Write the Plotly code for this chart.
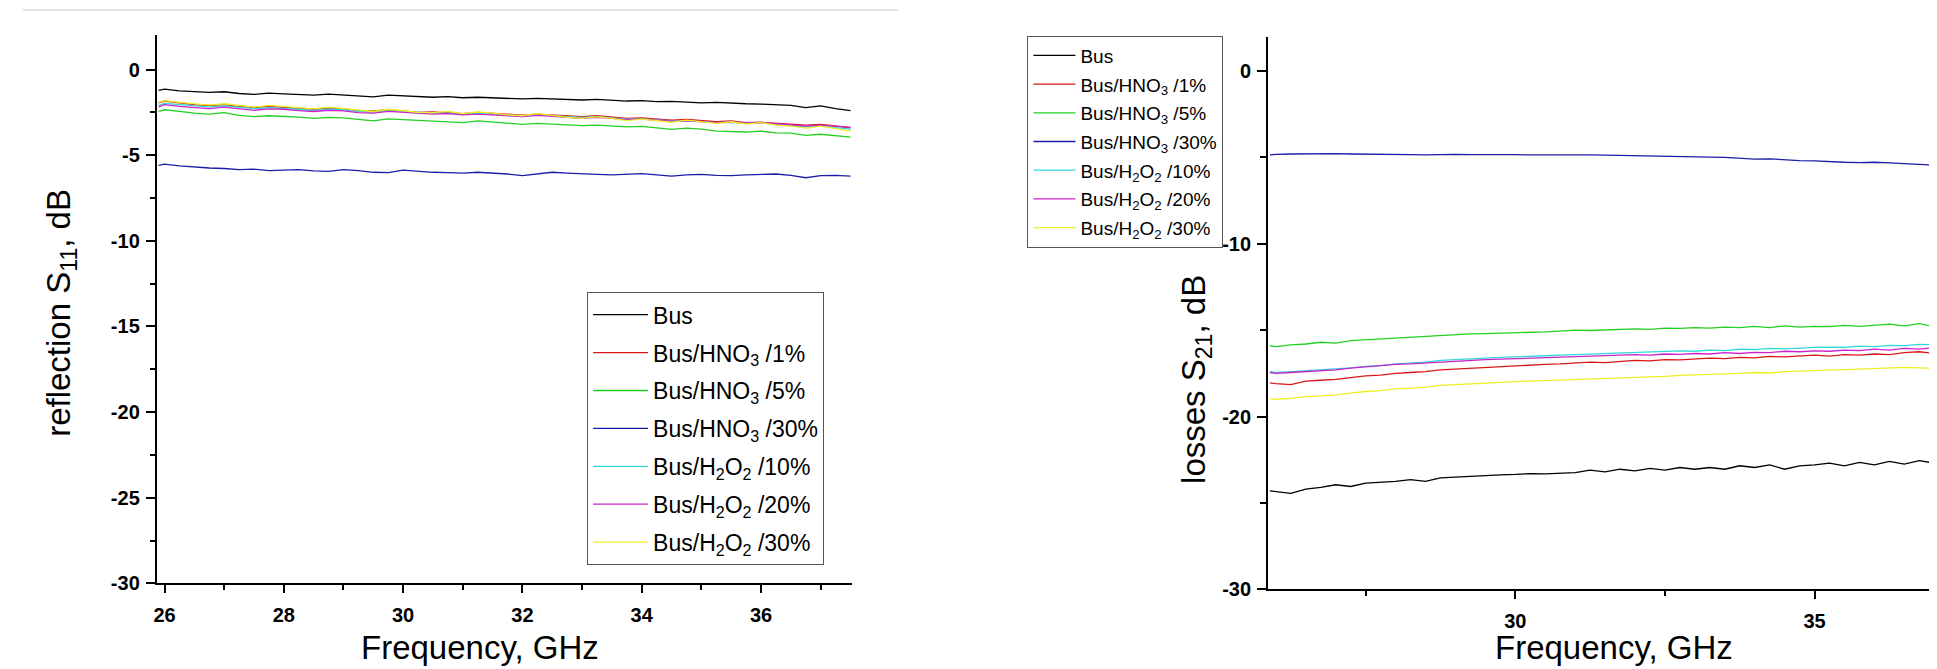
import plotly.graph_objects as go

W, H = 1937, 669

freq = [25.9, 26.0, 26.25, 26.5, 26.75, 27.0, 27.25, 27.5, 27.75, 28.0,
        28.25, 28.5, 28.75, 29.0, 29.25, 29.5, 29.75, 30.0, 30.25, 30.5,
        30.75, 31.0, 31.25, 31.5, 31.75, 32.0, 32.25, 32.5, 32.75, 33.0,
        33.25, 33.5, 33.75, 34.0, 34.25, 34.5, 34.75, 35.0, 35.25, 35.5,
        35.75, 36.0, 36.25, 36.5, 36.75, 37.0, 37.25, 37.5]

names = ["Bus", "Bus/HNO<sub>3</sub> /1%", "Bus/HNO<sub>3</sub> /5%", "Bus/HNO<sub>3</sub> /30%",
         "Bus/H<sub>2</sub>O<sub>2</sub> /10%", "Bus/H<sub>2</sub>O<sub>2</sub> /20%",
         "Bus/H<sub>2</sub>O<sub>2</sub> /30%"]
colors = ["#000000", "#d81818", "#22d022", "#1c1ca8", "#30d8d8", "#cc22cc", "#eeee22"]

# tick labels (hyphen-minus, as in the reference)
s11_yticks = [0, -5, -10, -15, -20, -25, -30]
s11_yticklabels = ["0", "-5", "-10", "-15", "-20", "-25", "-30"]
s21_yticks = [0, -10, -20, -30]
s21_yticklabels = ["0", "-10", "-20", "-30"]

# reflection S11, dB
s11_bus = [-1.22, -1.15, -1.25, -1.28, -1.33, -1.30, -1.40, -1.45, -1.38, -1.42,
           -1.45, -1.50, -1.44, -1.48, -1.55, -1.60, -1.50, -1.55, -1.60, -1.62,
           -1.58, -1.65, -1.62, -1.66, -1.70, -1.72, -1.68, -1.70, -1.76, -1.78,
           -1.74, -1.80, -1.84, -1.82, -1.88, -1.86, -1.90, -1.95, -1.92, -1.97,
           -2.00, -2.02, -2.05, -2.10, -2.22, -2.12, -2.28, -2.40]
s11_hno3_1 = [-1.95, -1.85, -1.95, -2.05, -2.10, -2.05, -2.15, -2.22, -2.15, -2.20,
              -2.28, -2.32, -2.25, -2.30, -2.40, -2.42, -2.35, -2.42, -2.50, -2.48,
              -2.52, -2.58, -2.50, -2.56, -2.62, -2.66, -2.60, -2.65, -2.72, -2.75,
              -2.70, -2.78, -2.85, -2.82, -2.90, -2.95, -2.92, -3.00, -3.05, -3.00,
              -3.10, -3.08, -3.15, -3.20, -3.25, -3.20, -3.30, -3.40]
s11_hno3_5 = [-2.45, -2.35, -2.45, -2.55, -2.60, -2.52, -2.68, -2.75, -2.70, -2.72,
              -2.78, -2.85, -2.80, -2.82, -2.92, -3.00, -2.88, -2.92, -2.98, -3.02,
              -3.05, -3.10, -3.00, -3.08, -3.12, -3.20, -3.15, -3.18, -3.22, -3.28,
              -3.25, -3.30, -3.35, -3.32, -3.40, -3.50, -3.42, -3.48, -3.60, -3.62,
              -3.65, -3.60, -3.70, -3.72, -3.85, -3.78, -3.88, -3.95]
s11_hno3_30 = [-5.60, -5.52, -5.62, -5.70, -5.75, -5.78, -5.85, -5.82, -5.90, -5.88,
               -5.85, -5.92, -5.95, -5.85, -5.90, -6.00, -6.02, -5.88, -5.95, -6.00,
               -6.02, -6.05, -6.00, -6.05, -6.10, -6.20, -6.12, -6.00, -6.05, -6.10,
               -6.12, -6.15, -6.10, -6.08, -6.15, -6.22, -6.15, -6.12, -6.18, -6.20,
               -6.15, -6.12, -6.10, -6.18, -6.32, -6.20, -6.18, -6.22]
s11_h2o2_10 = [-2.10, -1.98, -2.05, -2.12, -2.18, -2.12, -2.20, -2.28, -2.22, -2.25,
               -2.32, -2.38, -2.30, -2.35, -2.45, -2.48, -2.40, -2.45, -2.52, -2.55,
               -2.55, -2.62, -2.55, -2.60, -2.66, -2.70, -2.65, -2.70, -2.76, -2.80,
               -2.75, -2.82, -2.90, -2.88, -2.95, -3.00, -2.98, -3.05, -3.10, -3.08,
               -3.15, -3.12, -3.20, -3.28, -3.35, -3.30, -3.40, -3.48]
s11_h2o2_20 = [-2.18, -2.05, -2.15, -2.22, -2.28, -2.20, -2.30, -2.38, -2.30, -2.32,
               -2.40, -2.45, -2.38, -2.42, -2.52, -2.55, -2.45, -2.50, -2.58, -2.60,
               -2.58, -2.65, -2.60, -2.65, -2.70, -2.75, -2.68, -2.72, -2.80, -2.85,
               -2.80, -2.85, -2.92, -2.90, -2.98, -3.02, -3.00, -3.05, -3.10, -3.05,
               -3.12, -3.10, -3.18, -3.22, -3.30, -3.25, -3.32, -3.38]
s11_h2o2_30 = [-1.92, -1.82, -1.92, -2.00, -2.08, -2.00, -2.12, -2.20, -2.10, -2.18,
               -2.25, -2.30, -2.20, -2.28, -2.38, -2.45, -2.32, -2.40, -2.50, -2.52,
               -2.45, -2.58, -2.48, -2.55, -2.65, -2.70, -2.58, -2.68, -2.80, -2.85,
               -2.75, -2.85, -2.98, -2.90, -3.00, -3.08, -2.95, -3.05, -3.15, -3.05,
               -3.18, -3.10, -3.25, -3.30, -3.42, -3.30, -3.45, -3.60]

# losses S21, dB
s21_bus = [-24.30, -24.35, -24.45, -24.20, -24.10, -23.95, -24.05, -23.85, -23.80, -23.75,
           -23.65, -23.75, -23.55, -23.50, -23.45, -23.40, -23.38, -23.35, -23.30, -23.32,
           -23.30, -23.25, -23.10, -23.20, -23.05, -23.15, -23.00, -23.10, -22.95, -23.05,
           -22.95, -23.05, -22.85, -22.95, -22.80, -23.05, -22.85, -22.80, -22.70, -22.85,
           -22.65, -22.80, -22.60, -22.75, -22.55, -22.70, -22.80, -22.90]
s21_hno3_1 = [-18.05, -18.10, -18.15, -17.95, -17.90, -17.85, -17.75, -17.65, -17.60, -17.50,
              -17.45, -17.40, -17.30, -17.25, -17.20, -17.15, -17.10, -17.05, -17.00, -16.98,
              -16.95, -16.90, -16.85, -16.88, -16.80, -16.75, -16.78, -16.70, -16.72, -16.65,
              -16.62, -16.65, -16.58, -16.60, -16.52, -16.55, -16.48, -16.45, -16.50, -16.42,
              -16.45, -16.38, -16.42, -16.30, -16.25, -16.35, -16.30, -16.35]
s21_hno3_5 = [-15.90, -15.95, -15.85, -15.80, -15.70, -15.75, -15.60, -15.55, -15.50, -15.45,
              -15.40, -15.35, -15.30, -15.25, -15.22, -15.20, -15.18, -15.15, -15.12, -15.10,
              -15.05, -15.00, -15.02, -14.98, -14.95, -14.92, -14.95, -14.88, -14.90, -14.85,
              -14.88, -14.82, -14.85, -14.78, -14.85, -14.75, -14.82, -14.78, -14.80, -14.72,
              -14.78, -14.70, -14.65, -14.75, -14.62, -14.80, -14.85, -14.90]
s21_hno3_30 = [-4.85, -4.82, -4.80, -4.78, -4.80, -4.78, -4.80, -4.82, -4.80, -4.82,
               -4.84, -4.85, -4.83, -4.82, -4.84, -4.83, -4.85, -4.84, -4.85, -4.84,
               -4.85, -4.86, -4.85, -4.87, -4.88, -4.90, -4.92, -4.94, -4.95, -4.96,
               -4.98, -5.00, -5.05, -5.10, -5.08, -5.15, -5.18, -5.20, -5.25, -5.28,
               -5.30, -5.28, -5.32, -5.35, -5.38, -5.45, -5.42, -5.45]
s21_h2o2_10 = [-17.40, -17.45, -17.40, -17.35, -17.30, -17.25, -17.18, -17.10, -17.05, -16.95,
               -16.90, -16.85, -16.75, -16.70, -16.65, -16.62, -16.58, -16.55, -16.50, -16.48,
               -16.45, -16.42, -16.40, -16.35, -16.32, -16.30, -16.28, -16.25, -16.20, -16.22,
               -16.15, -16.18, -16.10, -16.12, -16.05, -16.08, -16.02, -16.00, -15.98, -16.00,
               -15.92, -15.95, -15.88, -15.90, -15.82, -15.85, -15.80, -15.85]
s21_h2o2_20 = [-17.45, -17.50, -17.45, -17.40, -17.35, -17.30, -17.20, -17.12, -17.05, -16.98,
               -16.95, -16.90, -16.82, -16.78, -16.72, -16.70, -16.68, -16.65, -16.62, -16.60,
               -16.58, -16.55, -16.52, -16.48, -16.45, -16.42, -16.45, -16.38, -16.40, -16.35,
               -16.38, -16.30, -16.35, -16.28, -16.30, -16.22, -16.25, -16.20, -16.22, -16.15,
               -16.18, -16.10, -16.15, -16.05, -16.10, -16.00, -16.05, -16.10]
s21_h2o2_30 = [-18.95, -19.00, -18.95, -18.85, -18.80, -18.75, -18.65, -18.55, -18.50, -18.40,
               -18.35, -18.30, -18.20, -18.15, -18.10, -18.05, -18.00, -17.98, -17.95, -17.92,
               -17.90, -17.88, -17.85, -17.80, -17.78, -17.75, -17.70, -17.68, -17.62, -17.60,
               -17.55, -17.52, -17.50, -17.45, -17.48, -17.40, -17.38, -17.35, -17.30, -17.28,
               -17.25, -17.22, -17.18, -17.15, -17.18, -17.22, -17.30, -17.35]

s11_series = [s11_bus, s11_hno3_1, s11_hno3_5, s11_hno3_30, s11_h2o2_10, s11_h2o2_20, s11_h2o2_30]
s21_series = [s21_bus, s21_hno3_1, s21_hno3_5, s21_hno3_30, s21_h2o2_10, s21_h2o2_20, s21_h2o2_30]

FONT = "Liberation Sans, Arial, sans-serif"

fig = go.Figure()
for i, (nm, col, ys) in enumerate(zip(names, colors, s11_series)):
    fig.add_trace(go.Scatter(x=freq, y=ys, mode="lines", name=nm,
                             line=dict(color=col, width=1.3),
                             xaxis="x", yaxis="y", legend="legend",
                             legendgroup="a%d" % i))
for i, (nm, col, ys) in enumerate(zip(names, colors, s21_series)):
    fig.add_trace(go.Scatter(x=freq, y=ys, mode="lines", name=nm,
                             line=dict(color=col, width=1.3),
                             xaxis="x2", yaxis="y2", legend="legend2",
                             legendgroup="b%d" % i))

def px_x(p):
    return p / W

def px_y(p):
    return (H - p) / H

tickfont = dict(family=FONT, size=20, color="black", weight="bold")
common = dict(showgrid=False, zeroline=False, showline=True, linecolor="black",
              linewidth=2, tickcolor="black", tickwidth=2)

xr1 = [25.87, 37.52]
yr = [-30, 2]
xr2 = [25.87, 37.18]

dom_x1 = [px_x(146), px_x(842)]
dom_y1 = [px_y(585), px_y(27.7)]
dom_x2 = [px_x(1259), 1.0]
dom_y2 = [px_y(591), px_y(29)]

fig.update_layout(
    width=W, height=H,
    margin=dict(l=0, r=0, t=0, b=0),
    paper_bgcolor="white", plot_bgcolor="white",
    font=dict(family=FONT, color="black"),
    xaxis=dict(domain=dom_x1, range=xr1, anchor="y", side="bottom",
               ticks="outside", ticklen=8, tickmode="linear", tick0=26, dtick=2,
               minor=dict(ticks="outside", ticklen=5, dtick=1, tick0=26, tickcolor="black", tickwidth=2),
               tickfont=tickfont, ticklabelstandoff=5, **common),
    xaxis3=dict(overlaying="x", range=xr1, anchor="y", side="top",
                ticks="inside", ticklen=9, tickmode="linear", tick0=26, dtick=2,
                minor=dict(ticks="inside", ticklen=5, dtick=1, tick0=26, tickcolor="black", tickwidth=2),
                showticklabels=False, **common),
    yaxis=dict(domain=dom_y1, range=yr, anchor="x", side="left",
               ticks="outside", ticklen=9, tickmode="array",
               tickvals=s11_yticks, ticktext=s11_yticklabels,
               minor=dict(ticks="outside", ticklen=5, dtick=2.5, tick0=0, tickcolor="black", tickwidth=2),
               tickfont=tickfont, ticklabelstandoff=2, **common),
    yaxis3=dict(overlaying="y", range=yr, anchor="x", side="right",
                ticks="inside", ticklen=10, tickmode="linear", tick0=0, dtick=5,
                minor=dict(ticks="inside", ticklen=6, dtick=2.5, tick0=0, tickcolor="black", tickwidth=2),
                showticklabels=False, **common),
    xaxis2=dict(domain=dom_x2, range=xr2, anchor="y2", side="bottom",
                ticks="outside", ticklen=8, tickmode="linear", tick0=30, dtick=5,
                minor=dict(ticks="outside", ticklen=5, dtick=2.5, tick0=30, tickcolor="black", tickwidth=2),
                tickfont=tickfont, ticklabelstandoff=5, **common),
    xaxis4=dict(overlaying="x2", range=xr2, anchor="y2", side="top",
                ticks="inside", ticklen=10, tickmode="linear", tick0=30, dtick=5,
                minor=dict(ticks="inside", ticklen=6, dtick=2.5, tick0=30, tickcolor="black", tickwidth=2),
                showticklabels=False, **common),
    yaxis2=dict(domain=dom_y2, range=yr, anchor="x2", side="left",
                ticks="outside", ticklen=9, tickmode="array",
                tickvals=s21_yticks, ticktext=s21_yticklabels,
                minor=dict(ticks="outside", ticklen=6, dtick=5, tick0=0, tickcolor="black", tickwidth=2),
                tickfont=tickfont, ticklabelstandoff=2, **common),
    legend=dict(x=px_x(577), y=px_y(289), xanchor="left", yanchor="top",
                bgcolor="white", bordercolor="#555555", borderwidth=1,
                font=dict(family=FONT, size=23, color="black"),
                itemwidth=55, tracegroupgap=5, traceorder="grouped"),
    legend2=dict(x=px_x(1018), y=px_y(28), xanchor="left", yanchor="top",
                 bgcolor="white", bordercolor="#555555", borderwidth=1,
                 font=dict(family=FONT, size=19, color="black"),
                 itemwidth=42, tracegroupgap=1, traceorder="grouped"),
    showlegend=True,
)

title_font = dict(family=FONT, size=33, color="black")
fig.add_annotation(text="Frequency, GHz", x=px_x(470), y=px_y(650), xref="paper", yref="paper",
                   xanchor="center", yanchor="middle", showarrow=False, font=title_font)
fig.add_annotation(text="Frequency, GHz", x=px_x(1605), y=px_y(650), xref="paper", yref="paper",
                   xanchor="center", yanchor="middle", showarrow=False, font=title_font)
fig.add_annotation(text="reflection S<sub>11</sub>, dB", x=px_x(50), y=px_y(310), xref="paper", yref="paper",
                   xanchor="center", yanchor="middle", showarrow=False, textangle=-90, font=title_font)
fig.add_annotation(text="losses S<sub>21</sub>, dB", x=px_x(1187), y=px_y(378), xref="paper", yref="paper",
                   xanchor="center", yanchor="middle", showarrow=False, textangle=-90, font=title_font)

fig.add_shape(type="line", xref="paper", yref="paper", x0=px_x(12), x1=px_x(888),
              y0=px_y(2), y1=px_y(2), line=dict(color="#e2e2e2", width=2))

fig.write_html("out.html")
